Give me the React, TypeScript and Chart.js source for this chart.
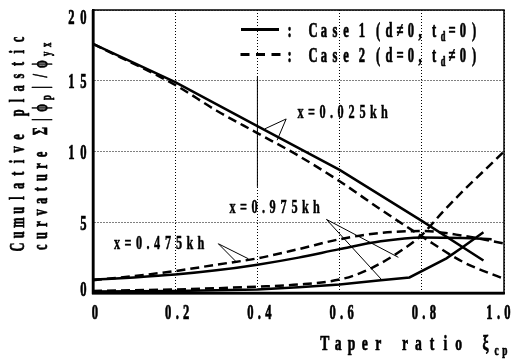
import React, { useEffect, useRef } from 'react';
import { Chart, registerables } from 'chart.js';

Chart.register(...registerables);

// ---------- data ----------
const xTicks = [0, 0.2, 0.4, 0.6, 0.8, 1.0];
const xTickLabels = ['0', '0.2', '0.4', '0.6', '0.8', '1.0'];
const yTicks = [0, 5, 10, 15, 20];
const yTickLabels = ['0', '5', '10', '15', '20'];

// Case 1 (solid)
const case1X025x = [0, 0.2, 0.4, 0.6, 0.8, 0.95];
const case1X025y = [17.6, 14.9, 11.8, 8.7, 5.1, 2.3];
const case1X475x = [0, 0.1, 0.2, 0.3, 0.4, 0.5, 0.6, 0.7, 0.8, 0.9, 0.97];
const case1X475y = [0.95, 1.1, 1.3, 1.6, 2.0, 2.5, 3.1, 3.65, 3.92, 3.88, 3.8];
const case1X975x = [0, 0.2, 0.4, 0.5, 0.6, 0.7, 0.77, 0.86, 0.9, 0.95];
const case1X975y = [0.1, 0.15, 0.25, 0.4, 0.6, 0.9, 1.1, 2.45, 3.25, 4.3];

// Case 2 (dashed)
const case2X025x = [0, 0.2, 0.3, 0.4, 0.5, 0.6, 0.7, 0.8, 0.9, 1.0];
const case2X025y = [17.6, 14.7, 12.9, 11.3, 9.7, 7.9, 5.9, 4.0, 2.2, 1.0];
const case2X475x = [0, 0.1, 0.2, 0.3, 0.4, 0.5, 0.6, 0.7, 0.8, 0.9, 1.0];
const case2X475y = [0.9, 1.2, 1.55, 2.0, 2.45, 3.1, 3.8, 4.25, 4.38, 4.05, 3.5];
const case2X975x = [0, 0.2, 0.4, 0.5, 0.6, 0.65, 0.7, 0.75, 0.8, 0.85, 0.9, 0.95, 1.0];
const case2X975y = [0.15, 0.25, 0.45, 0.6, 0.95, 1.4, 2.1, 3.0, 4.1, 5.7, 7.2, 8.6, 10.0];

// annotation labels (positions in data units)
const annLabels = ['x=0.025kh', 'x=0.975kh', 'x=0.475kh'];
const annTextPos = [[0.4915, 12.37], [0.326, 5.65], [0.045, 3.11]];
const annApex = [[0.47, 12.3], [0.568, 5.2], [0.305, 3.48]];
const annTargets = [
  [[0.418, 11.6], [0.448, 10.8]],
  [[0.702, 0.95], [0.743, 2.52]],
  [[0.35, 2.16], [0.378, 2.42]],
];

const toPts = (xs: number[], ys: number[]) => xs.map((x, i) => ({ x, y: ys[i] }));

// ---------- text helpers ----------
const FONT = "'Liberation Serif', 'DejaVu Serif', serif";
type Part = { t: string; sub?: boolean };
type TOpt = {
  size: number; sx: number; adv: number; space: number; punct: number;
  subAdv: number; subSize: number; subDrop: number; weight?: string; thick?: number;
};

function advOf(ch: string, sub: boolean, o: TOpt) {
  if (sub) return o.subAdv;
  if (ch === ' ') return o.space;
  if (ch === '.' || ch === ',') return o.punct;
  return o.adv;
}
function runWidth(parts: Part[], o: TOpt) {
  let w = 0;
  for (const p of parts) for (const ch of Array.from(p.t)) w += advOf(ch, !!p.sub, o);
  return w;
}
function drawRun(ctx: CanvasRenderingContext2D, parts: Part[], x0: number, y: number, o: TOpt) {
  let x = x0;
  for (const p of parts) {
    for (const ch of Array.from(p.t)) {
      const sub = !!p.sub;
      const adv = advOf(ch, sub, o);
      if (ch !== ' ') {
        ctx.save();
        ctx.font = `${o.weight || 'bold'} ${sub ? o.subSize : o.size}px ${FONT}`;
        ctx.translate(x + adv / 2, y + (sub ? o.subDrop : 0));
        ctx.scale(o.sx, 1);
        ctx.textAlign = 'center';
        ctx.textBaseline = 'alphabetic';
        ctx.fillStyle = '#000';
        ctx.fillText(ch, 0, 0);
        const th = o.thick ?? 0.7;
        if (th > 0) {
          ctx.strokeStyle = '#000';
          ctx.lineWidth = th;
          ctx.lineJoin = 'round';
          ctx.strokeText(ch, 0, 0);
        }
        ctx.restore();
      }
      x += adv;
    }
  }
}

const tickOpt: TOpt = { size: 21, sx: 0.6, adv: 11, space: 5, punct: 7, subAdv: 7, subSize: 14, subDrop: 4 };
const yTickOpt: TOpt = { ...tickOpt, adv: 12 };
const legOpt: TOpt = { size: 21, sx: 0.6, adv: 11, space: 5, punct: 7, subAdv: 7, subSize: 14, subDrop: 4 };
const annOpt: TOpt = { size: 18, sx: 0.68, adv: 11, space: 5, punct: 7, subAdv: 7, subSize: 12, subDrop: 3, thick: 0.5 };
const xTitleOpt: TOpt = { size: 22, sx: 0.62, adv: 13.4, space: 13.4, punct: 7, subAdv: 8.5, subSize: 15, subDrop: 5 };
const yTitle1Opt: TOpt = { size: 20, sx: 0.62, adv: 12.2, space: 12.2, punct: 7, subAdv: 9, subSize: 14, subDrop: 4 };
const yTitle2Opt: TOpt = { size: 20, sx: 0.62, adv: 11.6, space: 11.6, punct: 7, subAdv: 9, subSize: 14, subDrop: 4 };

const decorPlugin = {
  id: 'decor',
  beforeDraw(chart: any) {
    const ctx = chart.ctx as CanvasRenderingContext2D;
    ctx.save();
    ctx.fillStyle = '#fff';
    ctx.fillRect(0, 0, chart.width, chart.height);
    ctx.restore();
  },
  afterDraw(chart: any) {
    const ctx = chart.ctx as CanvasRenderingContext2D;
    const xs = chart.scales.x;
    const ys = chart.scales.y;
    const ca = chart.chartArea;
    const px = (v: number) => xs.getPixelForValue(v);
    const py = (v: number) => ys.getPixelForValue(v);

    // frame
    ctx.save();
    ctx.strokeStyle = '#000';
    ctx.lineWidth = 1.5;
    ctx.strokeRect(ca.left, ca.top, ca.right - ca.left, ca.bottom - ca.top);
    ctx.lineWidth = 2.5;
    ctx.beginPath();
    ctx.moveTo(ca.left, ca.top);
    ctx.lineTo(ca.left, ca.bottom);
    ctx.lineTo(ca.right, ca.bottom);
    ctx.stroke();
    // darker segment of the 0.4 grid line (as in the scan)
    ctx.lineWidth = 1;
    ctx.beginPath();
    ctx.moveTo(px(0.4), py(15.3));
    ctx.lineTo(px(0.4), py(7.5));
    ctx.stroke();
    ctx.restore();

    // x tick labels
    xTicks.forEach((v, i) => {
      const parts = [{ t: xTickLabels[i] }];
      const w = runWidth(parts, tickOpt);
      let left = px(v) + 2 - w / 2;
      if (left + w > chart.width - 1) left = chart.width - 1 - w;
      drawRun(ctx, parts, left, 319, tickOpt);
    });
    // y tick labels
    yTicks.forEach((v, i) => {
      const parts = [{ t: yTickLabels[i] }];
      const w = runWidth(parts, yTickOpt);
      const c = Math.min(288, Math.max(16, py(v)));
      drawRun(ctx, parts, ca.left - 3.5 - w, c + 7.5, yTickOpt);
    });

    // x title
    drawRun(ctx, [{ t: 'Taper ratio ξ' }, { t: 'cp', sub: true }], 318, 350, xTitleOpt);

    // y title (rotated)
    ctx.save();
    ctx.translate(24, 253);
    ctx.rotate(-Math.PI / 2);
    drawRun(ctx, [{ t: 'Cumulative plastic' }], 0, 0, yTitle1Opt);
    ctx.restore();
    ctx.save();
    ctx.translate(47, 253);
    ctx.rotate(-Math.PI / 2);
    drawRun(ctx, [{ t: 'curvature Σ|ϕ' }, { t: 'p', sub: true }, { t: '|/ϕ' }, { t: 'yx', sub: true }], 0, 0, yTitle2Opt);
    ctx.restore();

    // legend
    ctx.save();
    ctx.strokeStyle = '#000';
    ctx.lineWidth = 3;
    ctx.beginPath();
    ctx.moveTo(241, 29.5);
    ctx.lineTo(279, 29.5);
    ctx.stroke();
    ctx.setLineDash([9, 6.5]);
    ctx.beginPath();
    ctx.moveTo(240.5, 54.5);
    ctx.lineTo(280.5, 54.5);
    ctx.stroke();
    ctx.restore();
    drawRun(ctx, [{ t: ':' }], 284, 37, legOpt);
    drawRun(ctx, [{ t: ':' }], 284, 62, legOpt);
    drawRun(ctx, [{ t: 'Case 1 (d≠0, t' }, { t: 'd', sub: true }, { t: '=0)' }], 307.5, 37, legOpt);
    drawRun(ctx, [{ t: 'Case 2 (d=0, t' }, { t: 'd', sub: true }, { t: '≠0)' }], 307.5, 62, legOpt);

    // annotations
    annLabels.forEach((lab, i) => {
      const [tx, ty] = annTextPos[i];
      drawRun(ctx, [{ t: lab }], px(tx), py(ty), annOpt);
      const [ax, ay] = annApex[i];
      ctx.save();
      ctx.strokeStyle = '#000';
      ctx.lineWidth = 1;
      ctx.beginPath();
      annTargets[i].forEach(([qx, qy]) => {
        ctx.moveTo(px(ax), py(ay));
        ctx.lineTo(px(qx), py(qy));
      });
      ctx.stroke();
      ctx.restore();
    });
  },
};

export default function App() {
  const ref = useRef<HTMLCanvasElement>(null);
  useEffect(() => {
    const canvas = ref.current;
    if (!canvas) return;
    const solid = { borderColor: '#000', borderWidth: 2.5, pointRadius: 0, fill: false };
    const dashed = { ...solid, borderDash: [9, 5] };
    const chart = new Chart(canvas, {
      type: 'line',
      data: {
        datasets: [
          { label: 'Case 1, x=0.025kh', data: toPts(case1X025x, case1X025y), ...solid, tension: 0 },
          { label: 'Case 1, x=0.475kh', data: toPts(case1X475x, case1X475y), ...solid, cubicInterpolationMode: 'monotone' },
          { label: 'Case 1, x=0.975kh', data: toPts(case1X975x, case1X975y), ...solid, tension: 0 },
          { label: 'Case 2, x=0.025kh', data: toPts(case2X025x, case2X025y), ...dashed, cubicInterpolationMode: 'monotone' },
          { label: 'Case 2, x=0.475kh', data: toPts(case2X475x, case2X475y), ...dashed, cubicInterpolationMode: 'monotone' },
          { label: 'Case 2, x=0.975kh', data: toPts(case2X975x, case2X975y), ...dashed, cubicInterpolationMode: 'monotone' },
        ] as any,
      },
      options: {
        responsive: false,
        animation: false,
        devicePixelRatio: 1,
        layout: { padding: { top: 10, right: 10, left: 0, bottom: 0 } },
        plugins: { legend: { display: false }, tooltip: { enabled: false } },
        scales: {
          x: {
            type: 'linear',
            min: 0,
            max: 1,
            ticks: { stepSize: 0.2, display: false },
            grid: { color: '#000', lineWidth: 1, drawTicks: false, tickLength: 0 },
            border: { display: true, color: '#000', width: 2.5, dash: [1, 2] },
            afterFit: (s: any) => { s.height = 66; },
          },
          y: {
            type: 'linear',
            min: 0,
            max: 20,
            ticks: { stepSize: 5, display: false },
            grid: { color: '#000', lineWidth: 1, drawTicks: false, tickLength: 0 },
            border: { display: true, color: '#000', width: 2.5, dash: [1, 2] },
            afterFit: (s: any) => { s.width = 93; },
          },
        },
      } as any,
      plugins: [decorPlugin],
    });
    return () => chart.destroy();
  }, []);
  return (
    <div style={{ position: 'fixed', left: 0, top: 0, width: 514, height: 359, background: '#fff' }}>
      <canvas ref={ref} width={514} height={359} style={{ display: 'block' }} />
    </div>
  );
}
